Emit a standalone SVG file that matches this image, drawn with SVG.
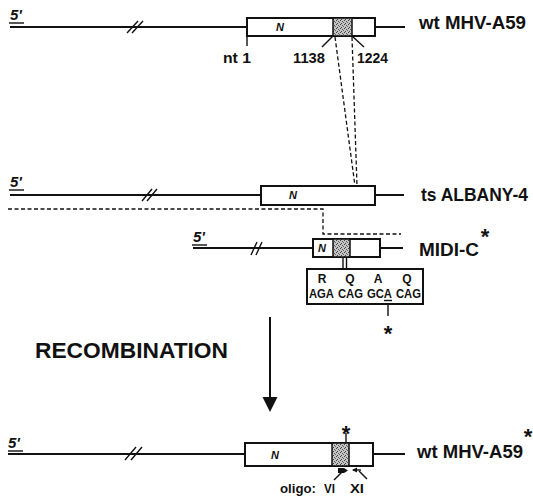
<svg xmlns="http://www.w3.org/2000/svg" width="533" height="497" viewBox="0 0 533 497">
<defs>
<pattern id="stip" width="4" height="4" patternUnits="userSpaceOnUse">
<rect width="4" height="4" fill="#c4c4c4"/>
<rect x="0" y="0" width="1" height="1" fill="#444"/>
<rect x="2" y="1" width="1" height="1" fill="#555"/>
<rect x="1" y="3" width="1" height="1" fill="#444"/>
<rect x="3" y="2" width="1" height="1" fill="#666"/>
</pattern>
<style>
.ln{stroke:#111;stroke-width:2;fill:none}
.thin{stroke:#111;stroke-width:1.4;fill:none}
.box{fill:#fff;stroke:#111;stroke-width:2}
.sh{fill:url(#stip);stroke:#111;stroke-width:1.5}
.dash{stroke:#111;stroke-width:1.3;fill:none;stroke-dasharray:4 2.5}
.lbl{font-family:"Liberation Sans",Arial,sans-serif;font-weight:bold;fill:#111}
.five{font-family:"Liberation Sans",Arial,sans-serif;font-weight:bold;font-style:italic;font-size:15px;fill:#111}
.n{font-family:"Liberation Sans",Arial,sans-serif;font-weight:bold;font-style:italic;font-size:11px;fill:#111;text-anchor:middle}
.ast{font-family:"Liberation Sans",Arial,sans-serif;font-weight:bold;font-size:22px;fill:#111;text-anchor:middle}
</style>
</defs>
<rect width="533" height="497" fill="#fff"/>

<g id="wt-mhv-a59-top">
<text class="five" x="10" y="20">5'</text>
<line class="thin" x1="9" y1="23" x2="24" y2="23"/>
<line class="ln" x1="10" y1="27" x2="247" y2="27"/>
<line class="thin" x1="127" y1="33" x2="138" y2="21"/>
<line class="thin" x1="132" y1="33" x2="143" y2="21"/>
<rect class="box" x="247" y="18" width="128" height="18"/>
<rect class="sh" x="333" y="18" width="19" height="18"/>
<text class="n" x="280" y="31">N</text>
<line class="ln" x1="375" y1="27" x2="405" y2="27"/>
<text class="lbl" x="419" y="29" font-size="19" textLength="107" lengthAdjust="spacingAndGlyphs">wt MHV-A59</text>
<line class="thin" x1="247" y1="36" x2="247" y2="46"/>
<line class="thin" x1="333" y1="36" x2="322" y2="47"/>
<line class="thin" x1="352" y1="36" x2="364" y2="47"/>
<text class="lbl" x="223" y="63" font-size="14" textLength="28" lengthAdjust="spacingAndGlyphs">nt 1</text>
<text class="lbl" x="293" y="63" font-size="14" textLength="32" lengthAdjust="spacingAndGlyphs">1138</text>
<text class="lbl" x="357" y="63" font-size="14" textLength="31" lengthAdjust="spacingAndGlyphs">1224</text>
</g>

<g id="ts-albany-4">
<text class="five" x="10" y="187">5'</text>
<line class="thin" x1="9" y1="190" x2="24" y2="190"/>
<line class="ln" x1="10" y1="195" x2="261" y2="195"/>
<line class="thin" x1="142" y1="201" x2="152" y2="189"/>
<line class="thin" x1="147" y1="201" x2="157" y2="189"/>
<rect class="box" x="261" y="186" width="114" height="19"/>
<text class="n" x="293" y="199">N</text>
<line class="ln" x1="375" y1="195" x2="404" y2="195"/>
<text class="lbl" x="421" y="201" font-size="17.5" textLength="107" lengthAdjust="spacingAndGlyphs">ts ALBANY-4</text>
</g>

<g id="midi-c">
<text class="five" x="193" y="242">5'</text>
<line class="thin" x1="192" y1="245" x2="207" y2="245"/>
<line class="ln" x1="193" y1="248" x2="313" y2="248"/>
<line class="thin" x1="251" y1="255" x2="257" y2="242"/>
<line class="thin" x1="256" y1="255" x2="262" y2="242"/>
<rect class="box" x="313" y="239" width="67" height="18"/>
<rect class="sh" x="333" y="239" width="17" height="18"/>
<text class="n" x="322" y="252">N</text>
<line class="ln" x1="380" y1="248" x2="403" y2="248"/>
<text class="lbl" x="419" y="256" font-size="19" textLength="60" lengthAdjust="spacingAndGlyphs">MIDI-C</text>
<text class="ast" x="485" y="244">*</text>
</g>

<g id="sequence-box">
<rect class="box" x="307" y="269" width="116" height="35" stroke-width="1.6"/>
<g class="lbl" font-size="12" text-anchor="middle">
<text x="322" y="283">R</text>
<text x="350" y="283">Q</text>
<text x="378" y="283">A</text>
<text x="407" y="283">Q</text>
</g>
<g class="lbl" font-size="12">
<text x="309" y="298" textLength="25" lengthAdjust="spacingAndGlyphs">AGA</text>
<text x="338" y="298" textLength="25" lengthAdjust="spacingAndGlyphs">CAG</text>
<text x="367" y="298" textLength="25" lengthAdjust="spacingAndGlyphs">GCA</text>
<text x="396" y="298" textLength="25" lengthAdjust="spacingAndGlyphs">CAG</text>
</g>
<line class="thin" x1="384" y1="300.5" x2="392" y2="300.5" stroke-width="1.2"/>
<line class="thin" x1="388" y1="304" x2="388" y2="316"/>
<text class="ast" x="388" y="341">*</text>
</g>

<g id="recombination">
<text class="lbl" x="35" y="358" font-size="22" textLength="193" lengthAdjust="spacingAndGlyphs">RECOMBINATION</text>
</g>

<g id="wt-mhv-a59-bottom">
<text class="five" x="8" y="448">5'</text>
<line class="thin" x1="8" y1="451" x2="23" y2="451"/>
<line class="ln" x1="8" y1="454" x2="245" y2="454"/>
<line class="thin" x1="125" y1="460" x2="136" y2="447"/>
<line class="thin" x1="131" y1="460" x2="142" y2="447"/>
<rect class="box" x="245" y="443" width="128" height="23"/>
<rect class="sh" x="332" y="443" width="17" height="23"/>
<text class="n" x="275" y="459">N</text>
<line class="ln" x1="373" y1="454" x2="405" y2="454"/>
<text class="lbl" x="417" y="458" font-size="19" textLength="106" lengthAdjust="spacingAndGlyphs">wt MHV-A59</text>
<text class="ast" x="528" y="444">*</text>
<line class="thin" x1="346" y1="443" x2="346" y2="433"/>
<text class="ast" x="346" y="441">*</text>
<polygon points="338,468 344,468 348,470.5 344,473 338,473" fill="#111"/>
<line class="thin" x1="342" y1="472" x2="334" y2="480"/>
<line class="thin" x1="353" y1="470" x2="361" y2="470"/>
<polygon points="352,470 357,467.5 357,472.5" fill="#111"/>
<line class="thin" x1="359" y1="471" x2="367" y2="479"/>
<text class="lbl" x="280" y="493" font-size="13" textLength="36" lengthAdjust="spacingAndGlyphs">oligo:</text>
<text class="lbl" x="324" y="493" font-size="13" textLength="11" lengthAdjust="spacingAndGlyphs">VI</text>
<text class="lbl" x="350" y="493" font-size="13" textLength="14" lengthAdjust="spacingAndGlyphs">XI</text>
</g>

<g id="connectors">
<line class="dash" x1="335" y1="37" x2="355" y2="186"/>
<line class="dash" x1="352" y1="37" x2="357" y2="186"/>
<path class="dash" d="M8,209 H323 V234 H401"/>
<line class="thin" x1="343" y1="257" x2="343" y2="269" stroke-width="1.2"/>
<line class="thin" x1="346.5" y1="257" x2="346.5" y2="269" stroke-width="1.2"/>
<line class="ln" x1="270" y1="317" x2="270" y2="398" stroke-width="1.6"/>
<polygon points="262.5,397 277.5,397 270,412" fill="#111"/>
</g>
</svg>
